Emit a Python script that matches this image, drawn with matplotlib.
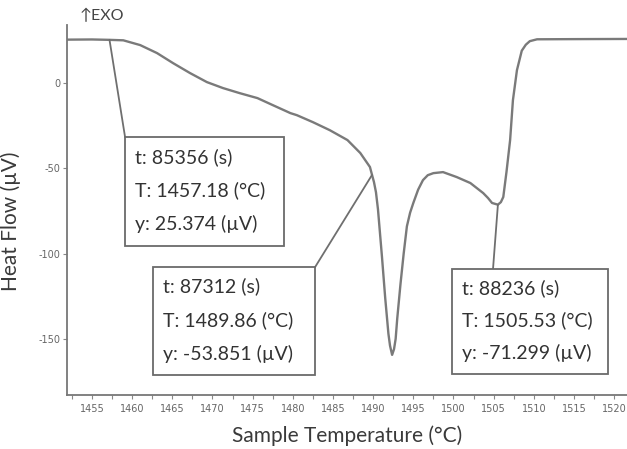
import numpy as np
import matplotlib
matplotlib.use('Agg')
import matplotlib.pyplot as plt
from matplotlib.patches import Rectangle
from matplotlib.ticker import MultipleLocator

plt.rcParams['axes.unicode_minus'] = False

# DSC curve
temp = [1451.9, 1455.0, 1457.18, 1458.9, 1461.0, 1463.1, 1465.1, 1467.2, 1469.3,
        1471.3, 1473.4, 1475.6, 1477.5, 1479.7, 1480.5, 1482.5, 1484.6, 1486.8,
        1488.4, 1489.6, 1489.86, 1490.1, 1490.35, 1490.6, 1490.85, 1491.1, 1491.5,
        1491.9, 1492.1, 1492.36, 1492.6, 1492.8, 1493.0, 1493.4, 1493.8, 1494.2,
        1494.6, 1495.0, 1495.6, 1496.2, 1496.8, 1497.5, 1498.7, 1500.4, 1502.1,
        1503.7, 1504.3, 1504.8, 1505.53, 1505.9, 1506.2, 1506.6, 1507.05, 1507.4,
        1507.9, 1508.5, 1509.0, 1509.5, 1510.4, 1515.0, 1521.6]
heat = [25.5, 25.6, 25.37, 25.1, 22.3, 17.6, 11.7, 5.9, 0.6,
        -2.9, -5.9, -8.8, -12.9, -17.6, -18.8, -22.9, -27.6, -33.4,
        -41.0, -49.2, -53.85, -58.0, -64.0, -74.0, -88.0, -102.0, -126.0,
        -147.0, -154.0, -159.4, -156.0, -150.0, -138.0, -118.0, -100.0, -84.0,
        -76.0, -70.3, -62.5, -56.9, -54.0, -52.8, -52.2, -55.1, -58.6,
        -64.5, -67.4, -70.3, -71.3, -69.8, -66.8, -52.0, -33.4, -10.0,
        7.6, 19.0, 22.5, 24.6, 25.7, 25.8, 25.9]

# annotated points
ann_t = [85356, 87312, 88236]
ann_T = [1457.18, 1489.86, 1505.53]
ann_y = [25.374, -53.851, -71.299]

x_ticks = list(range(1455, 1521, 5))
y_ticks = [0, -50, -100, -150]

fig = plt.figure(figsize=(6.27, 4.49), dpi=100)
ax = fig.add_axes([0.107, 0.12, 0.893, 0.824])

line_col = '#7a7a7a'
ax.plot(temp, heat, color=line_col, lw=1.7, solid_joinstyle='round')
ax.set_xlim(1451.9, 1521.6)
ax.set_ylim(-183, 34)

for s in ['top', 'right']:
    ax.spines[s].set_visible(False)
for s in ['left', 'bottom']:
    ax.spines[s].set_color('#777777')
    ax.spines[s].set_linewidth(1.3)

ax.set_xticks(x_ticks)
ax.set_yticks(y_ticks)
ax.xaxis.set_minor_locator(MultipleLocator(2.5))
ax.tick_params(axis='both', which='both', colors='#888888', labelcolor='#666666',
               labelsize=7, length=3, width=0.8, direction='out')
ax.tick_params(axis='y', pad=2)

ax.set_xlabel('Sample Temperature (°C)', family='Lato', fontsize=15,
              color='#3a3a3a', labelpad=8)
ax.set_ylabel('Heat Flow (µV)', family='Lato', fontsize=15, color='#3a3a3a')
ax.yaxis.set_label_coords(-0.083, 0.47)

ax.text(0.022, 1.004, '↑EXO', transform=ax.transAxes, family=['Lato', 'DejaVu Sans'],
        fontsize=11.5, color='#444444', va='bottom')

# annotation boxes (axes fraction): left, bottom, width, height, attach x, attach y
boxes = [(0.1036, 0.403, 0.284, 0.294, 0.1036, 0.697),
         (0.1536, 0.054, 0.289, 0.292, 0.4429, 0.346),
         (0.6875, 0.057, 0.279, 0.284, 0.7607, 0.341)]

for i, (bx, by, bw, bh, lx, ly) in enumerate(boxes):
    ax.annotate('', xy=(ann_T[i], ann_y[i]), xycoords='data',
                xytext=(lx, ly), textcoords='axes fraction',
                arrowprops=dict(arrowstyle='-', color='#6f6f6f', lw=1.3,
                                shrinkA=0, shrinkB=0))
    ax.add_patch(Rectangle((bx, by), bw, bh, transform=ax.transAxes,
                           facecolor='white', edgecolor='#6a6a6a', lw=1.3, zorder=5))
    lines = [f't: {ann_t[i]} (s)', f'T: {ann_T[i]:.2f} (°C)', f'y: {ann_y[i]} (µV)']
    for k, txt in enumerate(lines):
        ax.text(bx + 0.018, by + bh * (0.82 - 0.31 * k), txt, transform=ax.transAxes,
                family='Lato', fontsize=14, color='#333333', va='center', zorder=6)

fig.savefig('out.png', dpi=100)
